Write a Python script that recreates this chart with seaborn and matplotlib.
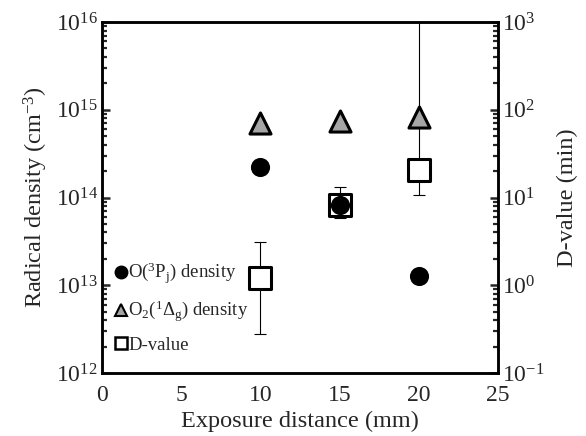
import numpy as np
import matplotlib
matplotlib.use("Agg")
import matplotlib.pyplot as plt
import seaborn as sns
import pandas as pd
from matplotlib.lines import Line2D

sns.set_style("white")
plt.rcParams['font.family'] = ['Liberation Serif', 'DejaVu Serif']
plt.rcParams['mathtext.fontset'] = 'custom'
plt.rcParams['mathtext.rm'] = 'Liberation Serif'
plt.rcParams['mathtext.it'] = 'Liberation Serif:italic'
plt.rcParams['axes.unicode_minus'] = False

# data
distance = [10, 15, 20]
o_density = [2.25e14, 8.3e13, 1.27e13]
o2_density = [7.0e14, 7.4e14, 8.3e14]
d_value = [1.22, 8.3, 20.5]
d_low = [0.28, 5.8, 10.6]
d_high = [3.15, 13.3, 3000.0]

df = pd.DataFrame({"distance": distance, "o": o_density, "o2": o2_density, "d": d_value})

fig = plt.figure(figsize=(5.86, 4.36), dpi=100)
ax1 = fig.add_axes([0.174, 0.1445, 0.676, 0.805])
ax2 = ax1.twinx()
ax1.set_zorder(ax2.get_zorder() + 1)
ax1.patch.set_visible(False)

# D-value on right axis
yerr = np.array([np.array(d_value) - np.array(d_low), np.array(d_high) - np.array(d_value)])
ax2.errorbar(distance, d_value, yerr=yerr, fmt='none', ecolor='black', elinewidth=0.8, capsize=4.5, capthick=0.8)
sns.scatterplot(data=df, x="distance", y="d", ax=ax2, marker='s', s=230, color='white',
                edgecolor='black', linewidth=2.2, zorder=3)

# densities on left axis
sns.scatterplot(data=df, x="distance", y="o2", ax=ax1, marker='^', s=230, color='#a6a6a6',
                edgecolor='black', linewidth=2.2, zorder=3)
sns.scatterplot(data=df, x="distance", y="o", ax=ax1, marker='o', s=190, color='black',
                edgecolor='black', linewidth=0, zorder=4)

ax1.set_yscale('log')
ax2.set_yscale('log')
ax1.set_ylim(1e12, 1e16)
ax2.set_ylim(1e-1, 1e3)
ax1.set_xlim(0, 25)
ax1.set_xticks([0, 5, 10, 15, 20, 25])

ax1.set_xlabel('Exposure distance (mm)', fontsize=17.5, labelpad=3)
ax1.set_ylabel('Radical density (cm$^{-3}$)', fontsize=17.5, labelpad=4)
ax2.set_ylabel('D-value (min)', fontsize=17.5, labelpad=9)
ax2.set_xlabel('')

for ax in (ax1, ax2):
    for sp in ax.spines.values():
        sp.set_linewidth(1.8)
        sp.set_color('black')
ax1.tick_params(axis='x', which='major', direction='in', length=6, width=1.8, labelsize=17, pad=9, top=False)
ax1.tick_params(axis='y', which='major', direction='in', length=6, width=1.8, labelsize=17, pad=3)
ax1.tick_params(axis='y', which='minor', direction='in', length=3.5, width=1.6, left=True)
ax2.tick_params(axis='y', which='major', direction='in', length=6, width=1.8, labelsize=17, pad=3)
ax2.tick_params(axis='y', which='minor', direction='in', length=3.5, width=1.6, right=True)
ax1.tick_params(axis='x', which='minor', bottom=False, top=False)

handles = [
    Line2D([], [], marker='o', ls='none', color='black', markersize=9),
    Line2D([], [], marker='^', ls='none', markerfacecolor='#a6a6a6', markeredgecolor='black', markeredgewidth=1.5, markersize=8.5),
    Line2D([], [], marker='s', ls='none', markerfacecolor='white', markeredgecolor='black', markeredgewidth=1.8, markersize=8.5),
]
labels = ['O($^3$P$_\\mathrm{j}$) density', 'O$_2$($^1$Δ$_\\mathrm{g}$) density', 'D-value']
ax1.legend(handles, labels, loc='lower left', frameon=False, fontsize=13.5, handlelength=0.6,
           handletextpad=0.1, labelspacing=0.68, borderaxespad=0.3, bbox_to_anchor=(0.0, 0.017))

fig.savefig('out.png', dpi=100)
